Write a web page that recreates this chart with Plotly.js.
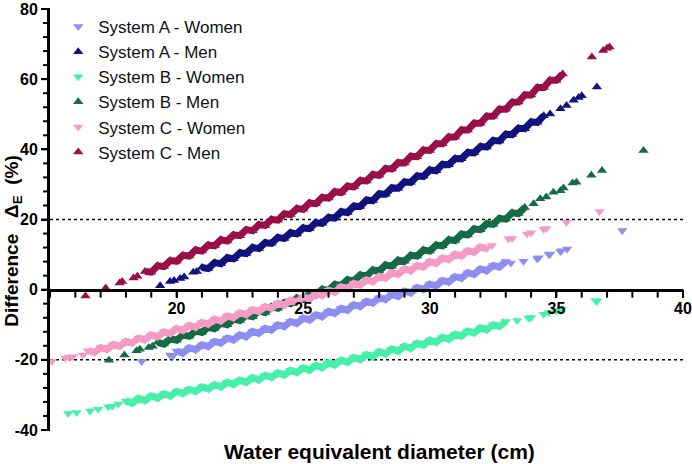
<!DOCTYPE html>
<html>
<head>
<meta charset="utf-8">
<script src="https://cdn.plot.ly/plotly-3.0.1.min.js"></script>
<style>html,body{margin:0;padding:0;background:#fff;}#chart{width:692px;height:464px;}</style>
</head>
<body>
<div id="chart"></div>
<script>
// ---- Data (x = water equivalent diameter, cm; y = difference, %) ----
var seriesNames = ["System A - Women","System A - Men","System B - Women","System B - Men","System C - Women","System C - Men"];

// dense band of each series
var aWomenX = [20,20.25,20.5,20.75,21,21.25,21.5,21.75,22,22.25,22.5,22.75,23,23.25,23.5,23.75,24,24.25,24.5,24.75,25,25.25,25.5,25.75,26,26.25,26.5,26.75,27,27.25,27.5,27.75,28,28.25,28.5,28.75,29,29.25,29.5,29.75,30,30.25,30.5,30.75,31,31.25,31.5,31.75,32,32.25,32.5,32.75,33];
var aWomenY = [-17.5,-18.1,-16.6,-17.1,-15.7,-16.2,-14.8,-15.2,-13.8,-14.3,-12.9,-13.4,-11.9,-12.4,-11.0,-11.5,-10.0,-10.5,-9.1,-9.6,-8.1,-8.6,-7.2,-7.7,-6.2,-6.7,-5.3,-5.8,-4.3,-4.8,-3.3,-3.8,-2.3,-2.8,-1.4,-1.9,-0.4,-0.9,0.6,0.1,1.6,1.1,2.6,2.2,3.7,3.3,4.8,4.4,5.9,5.4,6.9,6.5,8.0];
// scattered points of each series
var aWomenOutX = [18.62,19.74,19.85,33.2,33.7,34.24,34.3,34.7,34.76,35.16,35.2,35.42,37.6];
var aWomenOutY = [-20.5,-18.6,-18.9,7.6,8.1,8.8,9.1,10.0,10.2,10.9,11.1,11.6,16.9];

var aMenX = [21,21.25,21.5,21.75,22,22.25,22.5,22.75,23,23.25,23.5,23.75,24,24.25,24.5,24.75,25,25.25,25.5,25.75,26,26.25,26.5,26.75,27,27.25,27.5,27.75,28,28.25,28.5,28.75,29,29.25,29.5,29.75,30,30.25,30.5,30.75,31,31.25,31.5,31.75,32,32.25,32.5,32.75,33,33.25,33.5,33.75,34,34.25,34.5];
var aMenY = [6.3,6.0,7.7,7.4,9.1,8.8,10.5,10.3,12.0,11.7,13.4,13.2,14.9,14.6,16.2,15.9,17.6,17.4,19.1,18.9,20.6,20.4,22.2,22.0,23.8,23.7,25.5,25.4,27.3,27.2,29.0,28.9,30.7,30.6,32.4,32.3,34.1,33.9,35.7,35.6,37.4,37.3,39.1,39.0,40.8,40.7,42.5,42.4,44.3,44.2,46.0,45.9,47.8,47.7,49.6];
var aMenOutX = [19.35,19.74,19.9,20.14,20.3,20.66,20.8,34.75,35.16,35.4,35.68,35.88,36.0,36.6];
var aMenOutY = [1.1,2.3,2.6,3.2,3.6,5.0,5.2,50.1,51.6,52.5,54.0,54.8,55.3,57.8];

var bWomenX = [18,18.25,18.5,18.75,19,19.25,19.5,19.75,20,20.25,20.5,20.75,21,21.25,21.5,21.75,22,22.25,22.5,22.75,23,23.25,23.5,23.75,24,24.25,24.5,24.75,25,25.25,25.5,25.75,26,26.25,26.5,26.75,27,27.25,27.5,27.75,28,28.25,28.5,28.75,29,29.25,29.5,29.75,30,30.25,30.5,30.75,31,31.25,31.5,31.75,32,32.25,32.5,32.75,33];
var bWomenY = [-31.7,-32.3,-31.0,-31.6,-30.3,-30.9,-29.7,-30.3,-29.0,-29.6,-28.4,-29.0,-27.7,-28.3,-27.1,-27.7,-26.4,-27.0,-25.8,-26.4,-25.1,-25.7,-24.4,-25.0,-23.7,-24.3,-23.0,-23.6,-22.3,-22.9,-21.6,-22.2,-20.8,-21.4,-20.1,-20.7,-19.3,-19.9,-18.5,-19.1,-17.7,-18.3,-16.9,-17.5,-16.1,-16.7,-15.3,-15.8,-14.4,-15.0,-13.6,-14.1,-12.7,-13.2,-11.8,-12.3,-10.9,-11.4,-10.0,-10.5,-9.1];
var bWomenOutX = [15.72,16.05,16.58,16.9,17.3,17.45,17.7,33.45,33.9,34.0,34.5,34.7,35.0,35.16,35.22,36.54,36.6];
var bWomenOutY = [-35.3,-35.0,-34.6,-34.1,-33.4,-33.2,-32.6,-8.8,-8.1,-7.9,-7.0,-6.5,-6.1,-6.0,-5.5,-3.1,-3.3];

var bMenX = [19.25,19.5,19.75,20,20.25,20.5,20.75,21,21.25,21.5,21.75,22,22.25,22.5,22.75,23,23.25,23.5,23.75,24,24.25,24.5,24.75,25,25.25,25.5,25.75,26,26.25,26.5,26.75,27,27.25,27.5,27.75,28,28.25,28.5,28.75,29,29.25,29.5,29.75,30,30.25,30.5,30.75,31,31.25,31.5,31.75,32,32.25,32.5,32.75,33,33.25,33.5,33.75];
var bMenY = [-15.0,-15.5,-14.0,-14.4,-12.9,-13.3,-11.8,-12.2,-10.7,-11.1,-9.6,-10.0,-8.4,-8.8,-7.3,-7.7,-6.1,-6.5,-4.9,-5.3,-3.7,-4.0,-2.4,-2.8,-1.2,-1.5,0.1,-0.2,1.5,1.2,2.8,2.5,4.2,3.9,5.6,5.3,7.0,6.7,8.4,8.1,9.8,9.6,11.3,11.0,12.7,12.5,14.2,14.0,15.8,15.6,17.3,17.1,18.8,18.6,20.3,20.1,21.9,21.7,23.4];
var bMenOutX = [17.33,17.94,18.42,18.55,18.9,19.05,34.1,34.36,34.6,34.88,35.16,35.28,35.64,35.79,36.38,36.8,38.44];
var bMenOutY = [-20.1,-18.6,-17.4,-17.0,-16.5,-16.1,24.5,25.9,26.4,27.8,28.2,29.0,30.4,30.6,32.6,34.0,39.7];

var cWomenX = [16.5,16.75,17,17.25,17.5,17.75,18,18.25,18.5,18.75,19,19.25,19.5,19.75,20,20.25,20.5,20.75,21,21.25,21.5,21.75,22,22.25,22.5,22.75,23,23.25,23.5,23.75,24,24.25,24.5,24.75,25,25.25,25.5,25.75,26,26.25,26.5,26.75,27,27.25,27.5,27.75,28,28.25,28.5,28.75,29,29.25,29.5,29.75,30,30.25,30.5,30.75,31,31.25,31.5,31.75,32,32.25];
var cWomenY = [-17.4,-17.9,-16.5,-17.0,-15.6,-16.1,-14.7,-15.2,-13.8,-14.3,-12.9,-13.4,-12.0,-12.5,-11.1,-11.6,-10.2,-10.7,-9.3,-9.8,-8.4,-8.9,-7.5,-8.0,-6.6,-7.1,-5.7,-6.2,-4.8,-5.3,-3.9,-4.4,-3.0,-3.5,-2.1,-2.6,-1.2,-1.6,-0.2,-0.7,0.8,0.3,1.8,1.3,2.8,2.3,3.8,3.3,4.8,4.4,5.9,5.4,6.9,6.5,8.0,7.5,9.0,8.6,10.1,9.6,11.1,10.7,12.2,11.7];
var cWomenOutX = [15.07,15.6,15.75,15.9,16.3,32.45,33.1,33.25,33.84,34.0,34.5,34.6,35.4,36.7];
var cWomenOutY = [-20.5,-19.5,-19.2,-19.1,-18.6,12.6,14.5,14.6,15.9,16.2,17.2,17.4,19.2,22.3];

var cMenX = [18.75,19,19.25,19.5,19.75,20,20.25,20.5,20.75,21,21.25,21.5,21.75,22,22.25,22.5,22.75,23,23.25,23.5,23.75,24,24.25,24.5,24.75,25,25.25,25.5,25.75,26,26.25,26.5,26.75,27,27.25,27.5,27.75,28,28.25,28.5,28.75,29,29.25,29.5,29.75,30,30.25,30.5,30.75,31,31.25,31.5,31.75,32,32.25,32.5,32.75,33,33.25,33.5,33.75,34,34.25,34.5,34.75,35,35.25];
var cMenY = [5.2,5.0,6.8,6.6,8.3,8.1,9.8,9.6,11.3,11.0,12.7,12.5,14.2,13.9,15.6,15.4,17.1,16.8,18.5,18.3,20.0,19.8,21.6,21.4,23.1,22.9,24.7,24.5,26.3,26.1,27.9,27.7,29.5,29.3,31.1,31.0,32.8,32.6,34.5,34.4,36.2,36.1,38.0,37.9,39.8,39.7,41.6,41.6,43.5,43.5,45.5,45.5,47.4,47.4,49.4,49.4,51.4,51.4,53.4,53.5,55.5,55.5,57.6,57.6,59.7,59.7,61.5];
var cMenOutX = [16.4,17.2,17.75,17.85,18.3,18.45,36.4,36.85,37.0,37.1];
var cMenOutY = [-1.8,0.5,1.9,2.3,3.3,3.8,66.3,68.2,68.8,69.2];

var xRange = [15, 40];
var yRange = [-40, 80];
var xTickVals = [20,25,30,35,40];
var xTickText = ["20","25","30","35","40"];
var yTickVals = [-40,-20,0,20,40,60,80];
var yTickText = ["-40","-20","0","20","40","60","80"];
var xMinorTicks = [15,16,17,18,19,21,22,23,24,26,27,28,29,31,32,33,34,36,37,38,39];
var yMinorTicks = [-36,-32,-28,-24,-16,-12,-8,-4,4,8,12,16,24,28,32,36,44,48,52,56,64,68,72,76];
var refLines = [-20,20];

// ---- Styling ----
var colors = ["#8d8df2","#12127e","#44f0aa","#156a47","#f59ac5","#990f49"];
var symbols = ["triangle-down","triangle-up","triangle-down","triangle-up","triangle-down","triangle-up"];
var denseX = [aWomenX,aMenX,bWomenX,bMenX,cWomenX,cMenX];
var denseY = [aWomenY,aMenY,bWomenY,bMenY,cWomenY,cMenY];
var outX = [aWomenOutX,aMenOutX,bWomenOutX,bMenOutX,cWomenOutX,cMenOutX];
var outY = [aWomenOutY,aMenOutY,bWomenOutY,bMenOutY,cWomenOutY,cMenOutY];

var W = 692, H = 464, M = {l: 50, r: 9, t: 9, b: 34};
var plotW = W - M.l - M.r, plotH = H - M.t - M.b;

var FONT = 'Arial, "Liberation Sans", sans-serif';
var traces = [];
for (var i = 0; i < seriesNames.length; i++) {
  traces.push({
    type: 'scatter', mode: 'lines+markers', name: seriesNames[i], legendgroup: 'g' + i, showlegend: false,
    x: denseX[i], y: denseY[i], cliponaxis: false,
    line: {color: colors[i], width: 7},
    marker: {symbol: symbols[i], size: 9, color: colors[i], line: {width: 0}}
  });
  traces.push({
    type: 'scatter', mode: 'markers', name: seriesNames[i], legendgroup: 'g' + i, showlegend: true,
    x: outX[i], y: outY[i], cliponaxis: false,
    marker: {symbol: symbols[i], size: 9, color: colors[i], line: {width: 0}}
  });
}

// dotted reference lines
var shapes = refLines.map(function (v) {
  return {type: 'line', xref: 'x', yref: 'y', x0: xRange[0], x1: xRange[1], y0: v, y1: v, layer: 'below',
          line: {color: '#000', width: 1.5, dash: 'dot'}};
});
// axis ticks drawn in paper space from the tick arrays (x axis crosses at y = 0)
function xPaper(v) { return (v - xRange[0]) / (xRange[1] - xRange[0]); }
function yPaper(v) { return (v - yRange[0]) / (yRange[1] - yRange[0]); }
var xAxisPaperY = yPaper(0);
xTickVals.concat(xMinorTicks).forEach(function (v) {
  shapes.push({type: 'line', xref: 'paper', yref: 'paper', x0: xPaper(v), x1: xPaper(v),
               y0: xAxisPaperY, y1: xAxisPaperY - 8 / plotH, line: {color: '#000', width: 2}});
});
yTickVals.forEach(function (v) {
  shapes.push({type: 'line', xref: 'paper', yref: 'paper', x0: 0, x1: -9 / plotW,
               y0: yPaper(v), y1: yPaper(v), line: {color: '#000', width: 2}});
});
yMinorTicks.forEach(function (v) {
  shapes.push({type: 'line', xref: 'paper', yref: 'paper', x0: 0, x1: -7 / plotW,
               y0: yPaper(v), y1: yPaper(v), line: {color: '#000', width: 2}});
});

var layout = {
  width: W, height: H,
  margin: M,
  paper_bgcolor: '#fff', plot_bgcolor: '#fff',
  font: {family: FONT, color: '#000'},
  showlegend: true,
  legend: {x: 0.013, y: 1.0, xanchor: 'left', yanchor: 'top', bgcolor: 'rgba(0,0,0,0)',
           font: {family: FONT, size: 17, color: '#111'}, itemwidth: 30, tracegroupgap: 0},
  xaxis: {
    range: xRange, anchor: 'free', position: xAxisPaperY,
    showline: true, linewidth: 3, linecolor: '#000',
    showgrid: false, zeroline: false,
    ticks: 'outside', ticklen: 6, tickwidth: 2, tickcolor: '#000',
    tickmode: 'array', tickvals: xTickVals, ticktext: xTickText, ticklabelstandoff: -3,
    tickfont: {family: FONT, size: 16, weight: 'bold', color: '#000'}
  },
  yaxis: {
    range: yRange,
    showline: true, linewidth: 3, linecolor: '#000',
    showgrid: false, zeroline: false,
    ticks: 'outside', ticklen: 6, tickwidth: 2, tickcolor: '#000',
    tickmode: 'array', tickvals: yTickVals, ticktext: yTickText,
    tickfont: {family: FONT, size: 16, weight: 'bold', color: '#000'}
  },
  shapes: shapes,
  annotations: [
    {xref: 'paper', yref: 'paper', x: 0.52, y: -0.05, xanchor: 'center', yanchor: 'middle',
     text: 'Water equivalent diameter (cm)', showarrow: false,
     font: {family: FONT, size: 21, weight: 'bold', color: '#000'}},
    {xref: 'paper', yref: 'paper', x: -0.058, y: 0.448, xanchor: 'center', yanchor: 'middle',
     text: 'Difference\u00a0\u00a0\u00a0\u0394<sub>E</sub>\u00a0\u00a0(%)', showarrow: false, textangle: -90,
     font: {family: FONT, size: 19, weight: 'bold', color: '#000'}}
  ]
};

Plotly.newPlot('chart', traces, layout, {displayModeBar: false, staticPlot: true});
</script>
</body>
</html>
